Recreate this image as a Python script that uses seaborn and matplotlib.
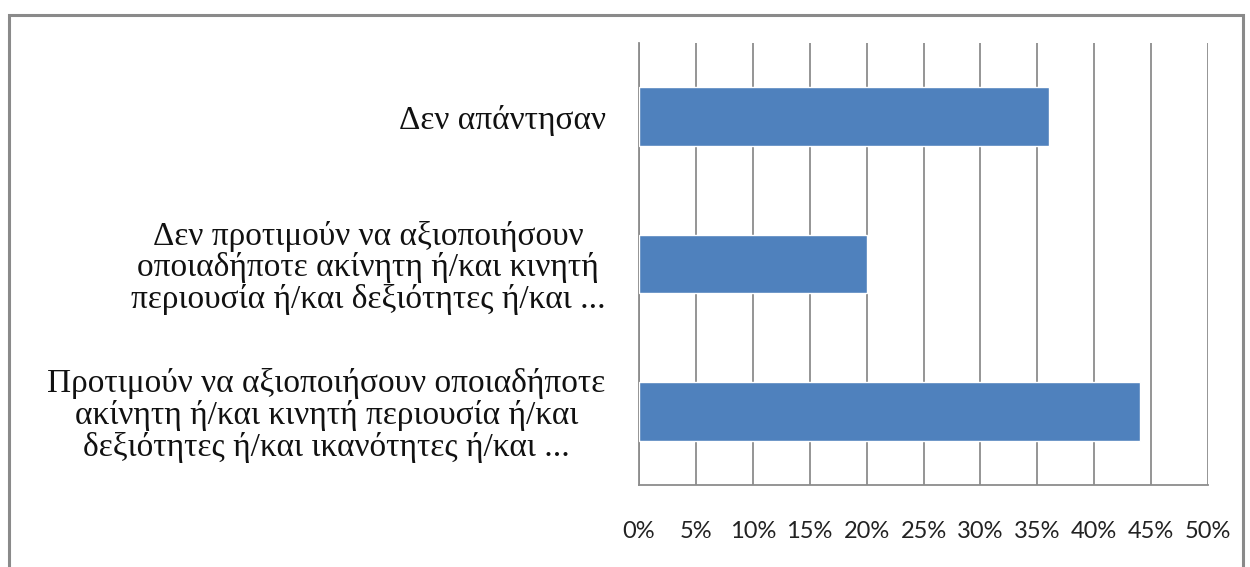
import matplotlib
matplotlib.use("Agg")
import matplotlib.pyplot as plt
import seaborn as sns
import pandas as pd
from matplotlib.patches import Rectangle
from matplotlib.ticker import FixedLocator, FuncFormatter

# data
categories = [
    "Δεν απάντησαν",
    "Δεν προτιμούν να αξιοποιήσουν\nοποιαδήποτε ακίνητη ή/και κινητή\nπεριουσία ή/και δεξιότητες ή/και ...",
    "Προτιμούν να αξιοποιήσουν οποιαδήποτε\nακίνητη ή/και κινητή περιουσία ή/και\nδεξιότητες ή/και ικανότητες ή/και ...",
]
shares = [36, 20, 44]
xticks = list(range(0, 55, 5))

df = pd.DataFrame({"cat": categories, "pct": shares})

sns.set_style("white")

fig = plt.figure(figsize=(12.5, 5.67), dpi=100)
ax = fig.add_axes([639 / 1250, 1 - 485 / 567, (1208 - 639) / 1250, (485 - 43) / 567])

sns.barplot(data=df, x="pct", y="cat", orient="h", color="#4F81BD",
            saturation=1, width=0.4, ax=ax, zorder=3)

ax.set_xlim(0, 50)
ax.set_ylim(2.5, -0.5)
ax.set_xticks(xticks)
ax.xaxis.set_major_formatter(FuncFormatter(lambda v, p: f"{v:.0f}%"))
ax.grid(axis="x", color="#8c8c8c", linewidth=1.3, zorder=0)
ax.grid(axis="y", visible=False)

for s in ["top", "right"]:
    ax.spines[s].set_visible(False)
for s in ["left", "bottom"]:
    ax.spines[s].set_color("#8c8c8c")
    ax.spines[s].set_linewidth(1.3)

ax.tick_params(axis="x", direction="out", length=10, width=1.3, color="#8c8c8c",
               pad=16, labelsize=17, labelcolor="#222222")
for lab in ax.get_xticklabels():
    lab.set_family(["Lato", "DejaVu Sans"])

# category tick marks sit on the boundaries
ax.yaxis.set_minor_locator(FixedLocator([-0.5, 0.5, 1.5, 2.5]))
ax.tick_params(axis="y", which="minor", direction="out", length=11, width=1.3,
               color="#8c8c8c")
ax.tick_params(axis="y", which="major", length=0, pad=24, labelsize=24,
               labelcolor="#111111")
for lab in ax.get_yticklabels():
    lab.set_family(["Liberation Serif", "DejaVu Serif"])
    lab.set_multialignment("center")
    lab.set_linespacing(1.04)

ax.set_xlabel("")
ax.set_ylabel("")

# outer chart frame
fig.patches.append(Rectangle((9 / 1250, -0.05), (1243 - 9) / 1250, 1 - 15 / 567 + 0.05,
                             transform=fig.transFigure, fill=False,
                             edgecolor="#8a8a8a", linewidth=2.2))

fig.savefig("out.png", dpi=100)
